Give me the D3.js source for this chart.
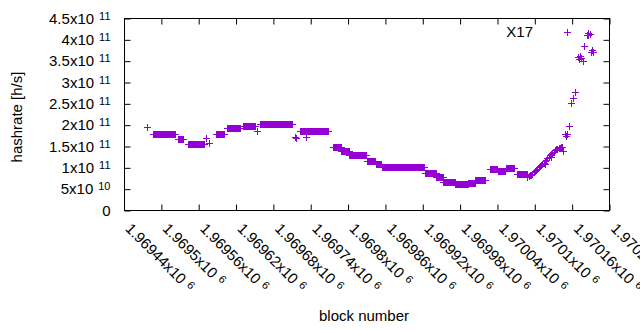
<!DOCTYPE html>
<html>
<head>
<meta charset="utf-8">
<script src="https://cdn.jsdelivr.net/npm/d3@7"></script>
<style>
body { margin: 0; background: #fff; }
text { font-family: "Liberation Sans", Arial, sans-serif; fill: #000; }
</style>
</head>
<body>
<div id="chart"></div>
<script>
// runs of blocks where the estimate stays flat: first block, last block, hashrate (1e9 h/s)
var runStart = [1969487, 1969527, 1969543, 1969588, 1969607, 1969632, 1969660, 1969723, 1969776,
                1969790, 1969803, 1969832, 1969845, 1969856, 1969925, 1969942, 1969953, 1969972,
                1969993, 1970004, 1970029, 1970041, 1970054, 1970072];
var runEnd   = [1969522, 1969535, 1969569, 1969602, 1969627, 1969651, 1969710, 1969768, 1969790,
                1969803, 1969830, 1969844, 1969854, 1969922, 1969942, 1969953, 1969972, 1969993,
                1970004, 1970020, 1970040, 1970053, 1970068, 1970088];
var runValue = [178, 167, 154, 178, 192, 198, 202, 184, 147,
                138, 129, 114, 108, 101, 86, 77, 65, 60,
                64, 71, 96, 91, 98, 85];

// isolated blocks and the climb at the end
var pointBlock = [1969477, 1969573, 1969578, 1969654, 1969716, 1969717, 1969734,
                  1970089, 1970091, 1970093, 1970095, 1970097, 1970099, 1970101, 1970103,
                  1970105, 1970107, 1970109, 1970111, 1970113, 1970115, 1970117, 1970119,
                  1970121, 1970123, 1970125, 1970127, 1970129, 1970131, 1970133, 1970135,
                  1970137, 1970139, 1970141, 1970143, 1970145, 1970117, 1970127,
                  1970146, 1970149, 1970151, 1970152, 1970156, 1970159,
                  1970162, 1970165, 1970170, 1970172, 1970173, 1970175, 1970178, 1970180,
                  1970184, 1970186, 1970187, 1970189, 1970191, 1970193, 1970194];
var pointValue = [193.5, 168, 156, 184, 172, 168, 171,
                  77, 79, 81, 83, 85, 88, 91, 94,
                  97, 100, 103, 105, 108, 111, 114, 117,
                  121, 124, 128, 131, 134, 137, 140, 142,
                  143, 145, 146, 147, 147, 107, 125,
                  137.6, 178, 174, 177, 196.6, 251.8,
                  262.8, 277.5, 359, 355, 360, 356, 348.1, 384.7,
                  410, 414, 411, 413, 371, 374, 370];

var xTicks = [1969440, 1969500, 1969560, 1969620, 1969680, 1969740, 1969800,
              1969860, 1969920, 1969980, 1970040, 1970100, 1970160, 1970220];
var yTicks = [0, 5e10, 1e11, 1.5e11, 2e11, 2.5e11, 3e11, 3.5e11, 4e11, 4.5e11];

var seriesName = 'X17';

var width = 640, height = 330
  , plotL = 124, plotR = 609.5, plotT = 18.5, plotB = 210.5
  , color = '#9400d3';

var data = [];
runStart.forEach(function(s, i) {
  for (var b = s; b <= runEnd[i]; b++) data.push({ block: b, rate: runValue[i] * 1e9 });
});
pointBlock.forEach(function(b, i) { data.push({ block: b, rate: pointValue[i] * 1e9 }); });

var svg = d3.select('#chart').append('svg')
    .attr('width', width)
    .attr('height', height);

var x = d3.scaleLinear()
    .domain([xTicks[0], xTicks[xTicks.length - 1]])
    .range([plotL, plotR]);

var y = d3.scaleLinear()
    .domain([0, 4.5e11])
    .range([plotB, plotT]);

function sci(v) {
  if (v === 0) return ['0', ''];
  var e = Math.floor(Math.log10(v) + 1e-9);
  var m = +(v / Math.pow(10, e)).toFixed(5);
  return [m + 'x10', '' + e];
}

function label(sel) {
  sel.each(function(d) {
    var t = d3.select(this), p = sci(d);
    t.text(null);
    t.append('tspan').text(p[0]);
    if (p[1]) t.append('tspan').attr('dx', 5).attr('dy', -4)
        .style('font-size', '11px').text(p[1]);
  });
}

// left axis
var gy = svg.append('g')
    .attr('transform', 'translate(' + (plotL + 0.5) + ',0)')
    .call(d3.axisLeft(y).tickValues(yTicks).tickSize(-6).tickSizeOuter(0).tickPadding(14));
gy.selectAll('text').style('font-size', '15px').call(label);

// mirror ticks right
svg.append('g')
    .attr('transform', 'translate(' + plotR + ',0)')
    .call(d3.axisRight(y).tickValues(yTicks).tickSize(-6).tickSizeOuter(0).tickFormat(''));

// bottom axis
var gx = svg.append('g')
    .attr('transform', 'translate(0,' + plotB + ')')
    .call(d3.axisBottom(x).tickValues(xTicks).tickSize(-6).tickSizeOuter(0));
gx.selectAll('text')
    .attr('y', null).attr('dy', null)
    .attr('text-anchor', 'start')
    .attr('transform', 'translate(0,19) rotate(45)')
    .style('font-size', '15px')
    .call(label);

// mirror ticks top
svg.append('g')
    .attr('transform', 'translate(0,' + plotT + ')')
    .call(d3.axisTop(x).tickValues(xTicks).tickSize(-6).tickSizeOuter(0).tickFormat(''));

svg.selectAll('.domain').remove();
svg.selectAll('.tick line').attr('stroke', '#000');

svg.append('rect')
    .attr('x', plotL + 0.5).attr('y', plotT)
    .attr('width', plotR - plotL - 0.5).attr('height', plotB - plotT)
    .attr('fill', 'none').attr('stroke', '#000');

// points
function plus(px, py) {
  px = Math.floor(px) + 0.5; py = Math.floor(py) + 0.5;
  return 'M' + (px - 3.5) + ',' + py + 'h7M' + px + ',' + (py - 3.5) + 'v7';
}

svg.append('g').selectAll('path')
    .data(data)
  .enter().append('path')
    .attr('d', d => plus(x(d.block), y(d.rate)))
    .attr('stroke', color)
    .attr('fill', 'none');

// key
svg.append('text')
    .attr('x', 533).attr('y', 37)
    .attr('text-anchor', 'end')
    .style('font-size', '15px')
    .text(seriesName);
svg.append('path')
    .attr('d', plus(567, 32))
    .attr('stroke', color);

// axis titles
svg.append('text')
    .attr('transform', 'translate(22,117) rotate(-90)')
    .attr('text-anchor', 'middle')
    .style('font-size', '15px')
    .text('hashrate [h/s]');

svg.append('text')
    .attr('x', 364).attr('y', 321)
    .attr('text-anchor', 'middle')
    .style('font-size', '15px')
    .text('block number');
</script>
</body>
</html>
